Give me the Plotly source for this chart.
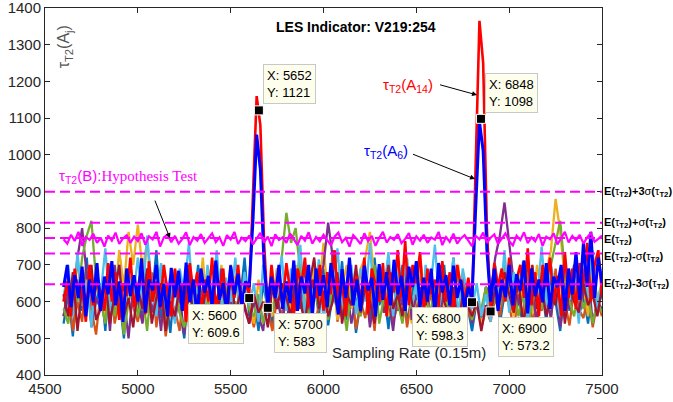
import numpy as np
import plotly.graph_objects as go

# ---------------- data ----------------
X_START = 4600
STEP_MAIN = 20   # red, blue, magenta series
STEP_BAND = 25   # other background series

tau_A14_red = [
    600, 655, 560, 690, 610, 640, 545, 700, 590, 660,
    625, 575, 705, 600, 680, 550, 650, 615, 720, 585,
    640, 690, 565, 710, 600, 655, 580, 700, 625, 560,
    690, 610, 650, 545, 705, 620, 680, 575, 660, 600,
    720, 585, 640, 690, 560, 675, 610, 700, 590, 650,
    620, 900, 1160, 1080, 760, 575, 700, 610, 665, 590,
    705, 630, 560, 690, 645, 720, 585, 660, 610, 700,
    575, 680, 620, 740, 590, 650, 560, 705, 630, 670,
    600, 720, 565, 690, 640, 600, 705, 560, 680, 625,
    740, 610, 765, 590, 700, 650, 735, 575, 690, 620,
    660, 585, 710, 600, 680, 560, 700, 640, 600, 665,
    590, 980, 1365, 1250, 800, 585, 705, 640, 690, 600,
    720, 575, 660, 700, 610, 745, 590, 680, 560, 700,
    640, 720, 600, 670, 560, 735, 610, 690, 580, 705,
    650, 760, 600, 700, 740, 620,
]

tau_A6_blue = [
    640, 700, 585, 672, 610, 695, 560, 660, 598, 705,
    575, 668, 620, 710, 590, 655, 545, 690, 615, 672,
    600, 718, 570, 660, 630, 700, 585, 648, 560, 692,
    612, 684, 575, 706, 598, 660, 552, 690, 624, 670,
    588, 712, 605, 650, 570, 698, 620, 676, 590, 655,
    640, 820, 1055, 960, 700, 590, 668, 610, 700, 580,
    655, 596, 712, 575, 668, 622, 700, 560, 690, 615,
    672, 585, 705, 640, 565, 688, 610, 720, 590, 660,
    575, 698, 630, 665, 560, 702, 605, 680, 590, 714,
    620, 670, 575, 695, 640, 710, 585, 665, 600, 690,
    565, 705, 625, 672, 590, 698, 610, 660, 580, 640,
    610, 860, 1090, 1010, 740, 600, 690, 575, 660, 612,
    700, 590, 675, 630, 712, 568, 690, 615, 660, 598,
    705, 580, 668, 640, 700, 575, 690, 620, 735, 605,
    760, 640, 790, 610, 720, 650,
]

tau_B_magenta = [
    770, 758, 782, 765, 790, 752, 776, 768, 785, 760,
    774, 750, 780, 766, 788, 757, 772, 781, 760, 777,
    765, 786, 755, 778, 769, 790, 750, 775, 783, 762,
    779, 758, 771, 789, 754, 776, 766, 784, 760, 773,
    786, 762, 775, 752, 781, 769, 790, 757, 774, 765,
    780, 756, 772, 787, 761, 777, 751, 783, 768, 775,
    760, 785, 770, 754, 779, 766, 789, 758, 776, 764,
    782, 769, 753, 777, 788, 762, 774, 750, 781, 770,
    757, 786, 765, 779, 752, 773, 790, 761, 776, 768,
    784, 759, 771, 787, 755, 778, 766, 782, 760, 775,
    769, 790, 754, 776, 763, 785, 758, 772, 781, 766,
    751, 779, 770, 788, 760, 774, 783, 757, 771, 786,
    765, 753, 780, 768, 789, 759, 775, 764, 784, 752,
    777, 770, 786, 756, 773, 790, 761, 779, 767, 782,
    758, 775, 787, 763, 771, 780,
]

tau_darkblue = [
    540, 620, 505, 660, 575, 720, 530, 600,
    650, 520, 700, 560, 610, 500, 680, 590,
    630, 545, 690, 600, 740, 555, 620, 515,
    660, 580, 500, 645, 595, 700, 530, 610,
    570, 680, 540, 625, 510, 660, 600, 720,
    560, 615, 520, 650, 580, 540, 690, 600,
    530, 640, 575, 700, 520, 610, 660, 560,
    690, 535, 620, 580, 710, 550, 640, 515,
    600, 670, 545, 720, 590, 630, 525, 660,
    575, 700, 540, 615, 680, 560, 620, 510,
    640, 585, 700, 545, 610, 530, 665, 590,
    520, 600, 555, 640, 580, 690, 540, 620,
    660, 575, 610, 530, 700, 590, 560, 640,
    545, 680, 600, 520, 650, 575, 700, 560,
    615, 540, 660, 585, 620,
]

tau_orange = [
    560, 640, 520, 600, 545, 690, 580, 510,
    630, 560, 700, 540, 600, 520, 660, 585,
    545, 610, 570, 680, 530, 640, 505, 600,
    580, 520, 650, 560, 620, 500, 590, 680,
    540, 610, 575, 650, 520, 600, 560, 640,
    585, 530, 600, 545, 575, 520, 610, 560,
    640, 550, 600, 700, 560, 620, 530, 590,
    660, 575, 740, 545, 610, 580, 650, 525,
    600, 555, 640, 520, 680, 570, 610, 545,
    590, 650, 530, 610, 565, 700, 540, 620,
    575, 530, 640, 560, 600, 515, 665, 580,
    545, 600, 530, 580, 545, 610, 560, 640,
    590, 525, 620, 560, 680, 540, 600, 575,
    630, 550, 690, 560, 600, 535, 640, 580,
    555, 620, 530, 600, 560,
]

tau_yellow = [
    600, 680, 560, 720, 590, 650, 540, 700,
    620, 560, 690, 600, 740, 640, 790, 700,
    810, 690, 760, 620, 580, 660, 545, 610,
    690, 570, 640, 530, 660, 600, 720, 560,
    630, 580, 700, 545, 610, 670, 560, 640,
    600, 540, 660, 580, 620, 560, 690, 600,
    650, 570, 700, 590, 640, 560, 710, 620,
    760, 600, 680, 550, 640, 700, 580, 620,
    690, 720, 790, 650, 600, 680, 560, 630,
    700, 580, 650, 540, 620, 690, 560, 640,
    600, 680, 550, 650, 590, 700, 570, 620,
    560, 600, 540, 580, 620, 660, 590, 700,
    620, 560, 680, 600, 650, 570, 700, 620,
    680, 740, 880, 790, 660, 600, 700, 580,
    640, 560, 680, 610, 650,
]

tau_purple = [
    560, 640, 600, 720, 800, 660, 540, 610,
    580, 650, 520, 700, 560, 610, 500, 640,
    600, 540, 680, 570, 630, 520, 660, 590,
    550, 620, 510, 680, 600, 560, 640, 530,
    620, 570, 690, 540, 600, 520, 650, 580,
    540, 600, 560, 520, 640, 580, 610, 550,
    600, 530, 650, 580, 700, 560, 620, 640,
    700, 815, 720, 600, 560, 640, 540, 610,
    580, 660, 530, 620, 700, 570, 610, 520,
    640, 590, 700, 550, 620, 580, 670, 540,
    610, 530, 660, 590, 720, 560, 600, 640,
    540, 600, 560, 640, 620, 720, 780, 870,
    760, 650, 590, 700, 560, 630, 540, 680,
    600, 560, 650, 530, 620, 580, 700, 560,
    620, 680, 540, 600, 580,
]

tau_green = [
    580, 540, 650, 600, 720, 780, 820, 660,
    600, 540, 680, 560, 630, 510, 600, 650,
    560, 620, 520, 660, 590, 700, 540, 610,
    640, 570, 530, 620, 580, 680, 550, 600,
    520, 610, 580, 650, 560, 600, 530, 640,
    580, 560, 620, 540, 600, 570, 640, 720,
    842, 760, 800, 680, 600, 560, 640, 580,
    620, 550, 660, 580, 610, 520, 640, 590,
    560, 640, 600, 700, 540, 610, 580, 650,
    600, 540, 620, 580, 660, 520, 610, 570,
    640, 580, 540, 620, 600, 680, 560, 610,
    550, 600, 580, 640, 560, 620, 590, 700,
    580, 640, 560, 620, 530, 600, 650, 580,
    620, 700, 760, 820, 680, 600, 560, 640,
    580, 620, 540, 600, 570,
]

tau_lightblue = [
    610, 700, 560, 735, 590, 660, 530, 690,
    620, 745, 575, 650, 700, 545, 680, 610,
    720, 600, 780, 640, 560, 705, 590, 670,
    540, 690, 625, 760, 580, 650, 520, 700,
    615, 740, 570, 665, 600, 720, 555, 680,
    590, 650, 545, 700, 560, 640, 610, 725,
    575, 690, 630, 755, 560, 670, 600, 715,
    545, 680, 620, 745, 590, 650, 700, 565,
    690, 600, 760, 575, 660, 625, 735, 560,
    680, 610, 720, 585, 650, 540, 700, 630,
    755, 590, 665, 610, 720, 560, 690, 620,
    580, 650, 560, 620, 545, 700, 600, 740,
    570, 680, 625, 710, 550, 660, 600, 750,
    590, 700, 630, 560, 720, 605, 665, 540,
    690, 610, 740, 580, 660,
]

tau_darkred = [
    620, 560, 680, 520, 640, 600, 700, 550,
    580, 660, 540, 620, 700, 560, 610, 530,
    640, 580, 690, 540, 610, 650, 520, 600,
    560, 640, 590, 700, 540, 620, 580, 660,
    600, 540, 650, 580, 700, 560, 620, 590,
    540, 620, 570, 600, 530, 640, 580, 650,
    610, 560, 680, 600, 540, 650, 720, 580,
    630, 560, 600, 680, 540, 620, 590, 700,
    570, 640, 600, 540, 660, 610, 700, 580,
    620, 560, 680, 600, 540, 640, 590, 660,
    580, 700, 600, 560, 640, 520, 620, 590,
    560, 600, 520, 590, 560, 640, 600, 680,
    620, 570, 660, 540, 610, 700, 580, 640,
    560, 620, 590, 680, 540, 640, 600, 570,
    650, 590, 620, 560, 640,
]

# statistics of tau_T2 (hypothesis test thresholds)
E_TAU = 773
SIGMA_TAU = 42
K_LEVELS = [3, 1, 0, -1, -3]
LEVEL_LABELS = [
    "<b>E(</b>τ<b><sub>T2</sub>)+3</b>σ<b>(</b>τ<b><sub>T2</sub>)</b>",
    "<b>E(</b>τ<b><sub>T2</sub>)+</b>σ<b>(</b>τ<b><sub>T2</sub>)</b>",
    "<b>E(</b>τ<b><sub>T2</sub>)</b>",
    "<b>E(</b>τ<b><sub>T2</sub>)-</b>σ<b>(</b>τ<b><sub>T2</sub>)</b>",
    "<b>E(</b>τ<b><sub>T2</sub>)-3</b>σ<b>(</b>τ<b><sub>T2</sub>)</b>",
]
LEVEL_SHIFTS = [0, 0, -2, -3, 0]

# data tips
TIP_X = [5652, 6848, 5600, 5700, 6800, 6900]
TIP_Y = ["1121", "1098", "609.6", "583", "598.3", "573.2"]

X_TICKS = [4500, 5000, 5500, 6000, 6500, 7000, 7500]
Y_TICKS = [400, 500, 600, 700, 800, 900, 1000, 1100, 1200, 1300, 1400]

FONT = "Liberation Sans, Arial, Helvetica"

# ---------------- figure ----------------
def xs(vals, step):
    return X_START + step * np.arange(len(vals))

fig = go.Figure()

band = [
    (tau_darkblue, "#0072BD"),
    (tau_orange, "#D95319"),
    (tau_yellow, "#EDB120"),
    (tau_purple, "#7E2F8E"),
    (tau_green, "#77AC30"),
    (tau_lightblue, "#4DBEEE"),
    (tau_darkred, "#A2142F"),
]
for vals, col in band:
    fig.add_trace(go.Scatter(x=xs(vals, STEP_BAND), y=vals, mode="lines",
                             line=dict(color=col, width=2.3), hoverinfo="skip"))

fig.add_trace(go.Scatter(x=xs(tau_A14_red, STEP_MAIN), y=tau_A14_red, mode="lines",
                         line=dict(color="#FF0000", width=2.6), hoverinfo="skip"))
fig.add_trace(go.Scatter(x=xs(tau_A6_blue, STEP_MAIN), y=tau_A6_blue, mode="lines",
                         line=dict(color="#0000FF", width=3), hoverinfo="skip"))
fig.add_trace(go.Scatter(x=xs(tau_B_magenta, STEP_MAIN), y=tau_B_magenta, mode="lines",
                         line=dict(color="#FF00FF", width=2.2), hoverinfo="skip"))

# threshold lines
for k, lab, sh in zip(K_LEVELS, LEVEL_LABELS, LEVEL_SHIFTS):
    yv = E_TAU + k * SIGMA_TAU
    fig.add_shape(type="line", xref="paper", x0=0, x1=1, yref="y", y0=yv, y1=yv,
                  line=dict(color="#FF00FF", width=2, dash="10px,5px"), layer="above")
    fig.add_annotation(xref="paper", x=1, xshift=0, yref="y", y=yv, yshift=sh, text=lab,
                       showarrow=False, xanchor="left", yanchor="middle",
                       font=dict(family=FONT, size=11, color="#000000"))

# data-tip markers
tip_y_num = [float(v) for v in TIP_Y]
fig.add_trace(go.Scatter(x=TIP_X, y=tip_y_num, mode="markers",
                         marker=dict(symbol="square", size=9, color="#000000",
                                     line=dict(color="#FFFFFF", width=1)),
                         hoverinfo="skip"))

tip_layout = [
    ("left", "bottom", 4, 6),
    ("left", "bottom", 4, 6),
    ("right", "top", -5, -6),
    ("left", "top", 6, -5),
    ("right", "top", -4, -5),
    ("left", "top", 7, -6),
]
for xv, ys, (xa, ya, dx, dy) in zip(TIP_X, TIP_Y, tip_layout):
    fig.add_annotation(x=xv, y=float(ys), text=f"X: {xv}<br>Y: {ys}", showarrow=False,
                       xanchor=xa, yanchor=ya, xshift=dx, yshift=dy, align="left",
                       bgcolor="#FEFEEC", bordercolor="#C8C8C8", borderwidth=1, borderpad=3,
                       font=dict(family=FONT, size=13, color="#000000"))

# labelled arrows
fig.add_annotation(x=6827, y=1163, ax=-40, ay=-11, text=" ", showarrow=True,
                   arrowhead=2, arrowsize=1, arrowwidth=1, arrowcolor="#000000")
fig.add_annotation(x=6816, y=934, ax=-65, ay=-26, text=" ", showarrow=True,
                   arrowhead=2, arrowsize=1, arrowwidth=1, arrowcolor="#000000")
fig.add_annotation(x=5173, y=773, ax=-18, ay=-45, text=" ", showarrow=True,
                   arrowhead=2, arrowsize=1, arrowwidth=1, arrowcolor="#000000")

fig.add_annotation(x=6455, y=1190, text="τ<sub>T2</sub>(A<sub>14</sub>)", showarrow=False,
                   font=dict(family=FONT, size=15, color="#FF0000"))
fig.add_annotation(x=6337, y=1010, text="τ<sub>T2</sub>(A<sub>6</sub>)", showarrow=False,
                   font=dict(family=FONT, size=15, color="#0000FF"))
fig.add_annotation(x=4565, y=940, xanchor="left",
                   text="τ<sub>T2</sub>(B):<span style='font-family:Liberation Serif'>Hypothesis Test</span>",
                   showarrow=False,
                   font=dict(family=FONT, size=15, color="#FF00FF"))

# title, axis labels inside plot
fig.add_annotation(xref="paper", yref="paper", x=0.559, y=0.948, yanchor="middle",
                   text="<b>LES Indicator: V219:254</b>", showarrow=False,
                   font=dict(family=FONT, size=14, color="#000000"))
fig.add_annotation(xref="paper", yref="paper", x=0.016, y=0.958, textangle=-90,
                   text="τ<sub>T2</sub>(A<sub>j</sub>)", showarrow=False,
                   font=dict(family=FONT, size=16, color="#555555"))
fig.add_annotation(xref="paper", yref="paper", x=0.653, y=0.033,
                   text="Sampling Rate (0.15m)", showarrow=False,
                   font=dict(family=FONT, size=15, color="#262626"))

axis_common = dict(showgrid=False, zeroline=False, ticks="inside", ticklen=5,
                   tickcolor="#262626", showline=True, linecolor="#262626", linewidth=1,
                   mirror="allticks", automargin=False, ticklabeloverflow="allow",
                   tickfont=dict(family=FONT, size=15, color="#262626"))
fig.update_xaxes(range=[4500, 7500], tickvals=X_TICKS, **axis_common)
fig.update_yaxes(range=[400, 1400], tickvals=Y_TICKS, **axis_common)

fig.update_layout(width=673, height=402, showlegend=False,
                  margin=dict(l=45, r=71, t=8, b=27, autoexpand=False),
                  paper_bgcolor="#FFFFFF", plot_bgcolor="#FFFFFF")

fig.write_html("out.html", config={"displayModeBar": False},
               post_script="document.body.style.margin='0';document.body.style.overflow='hidden';")
